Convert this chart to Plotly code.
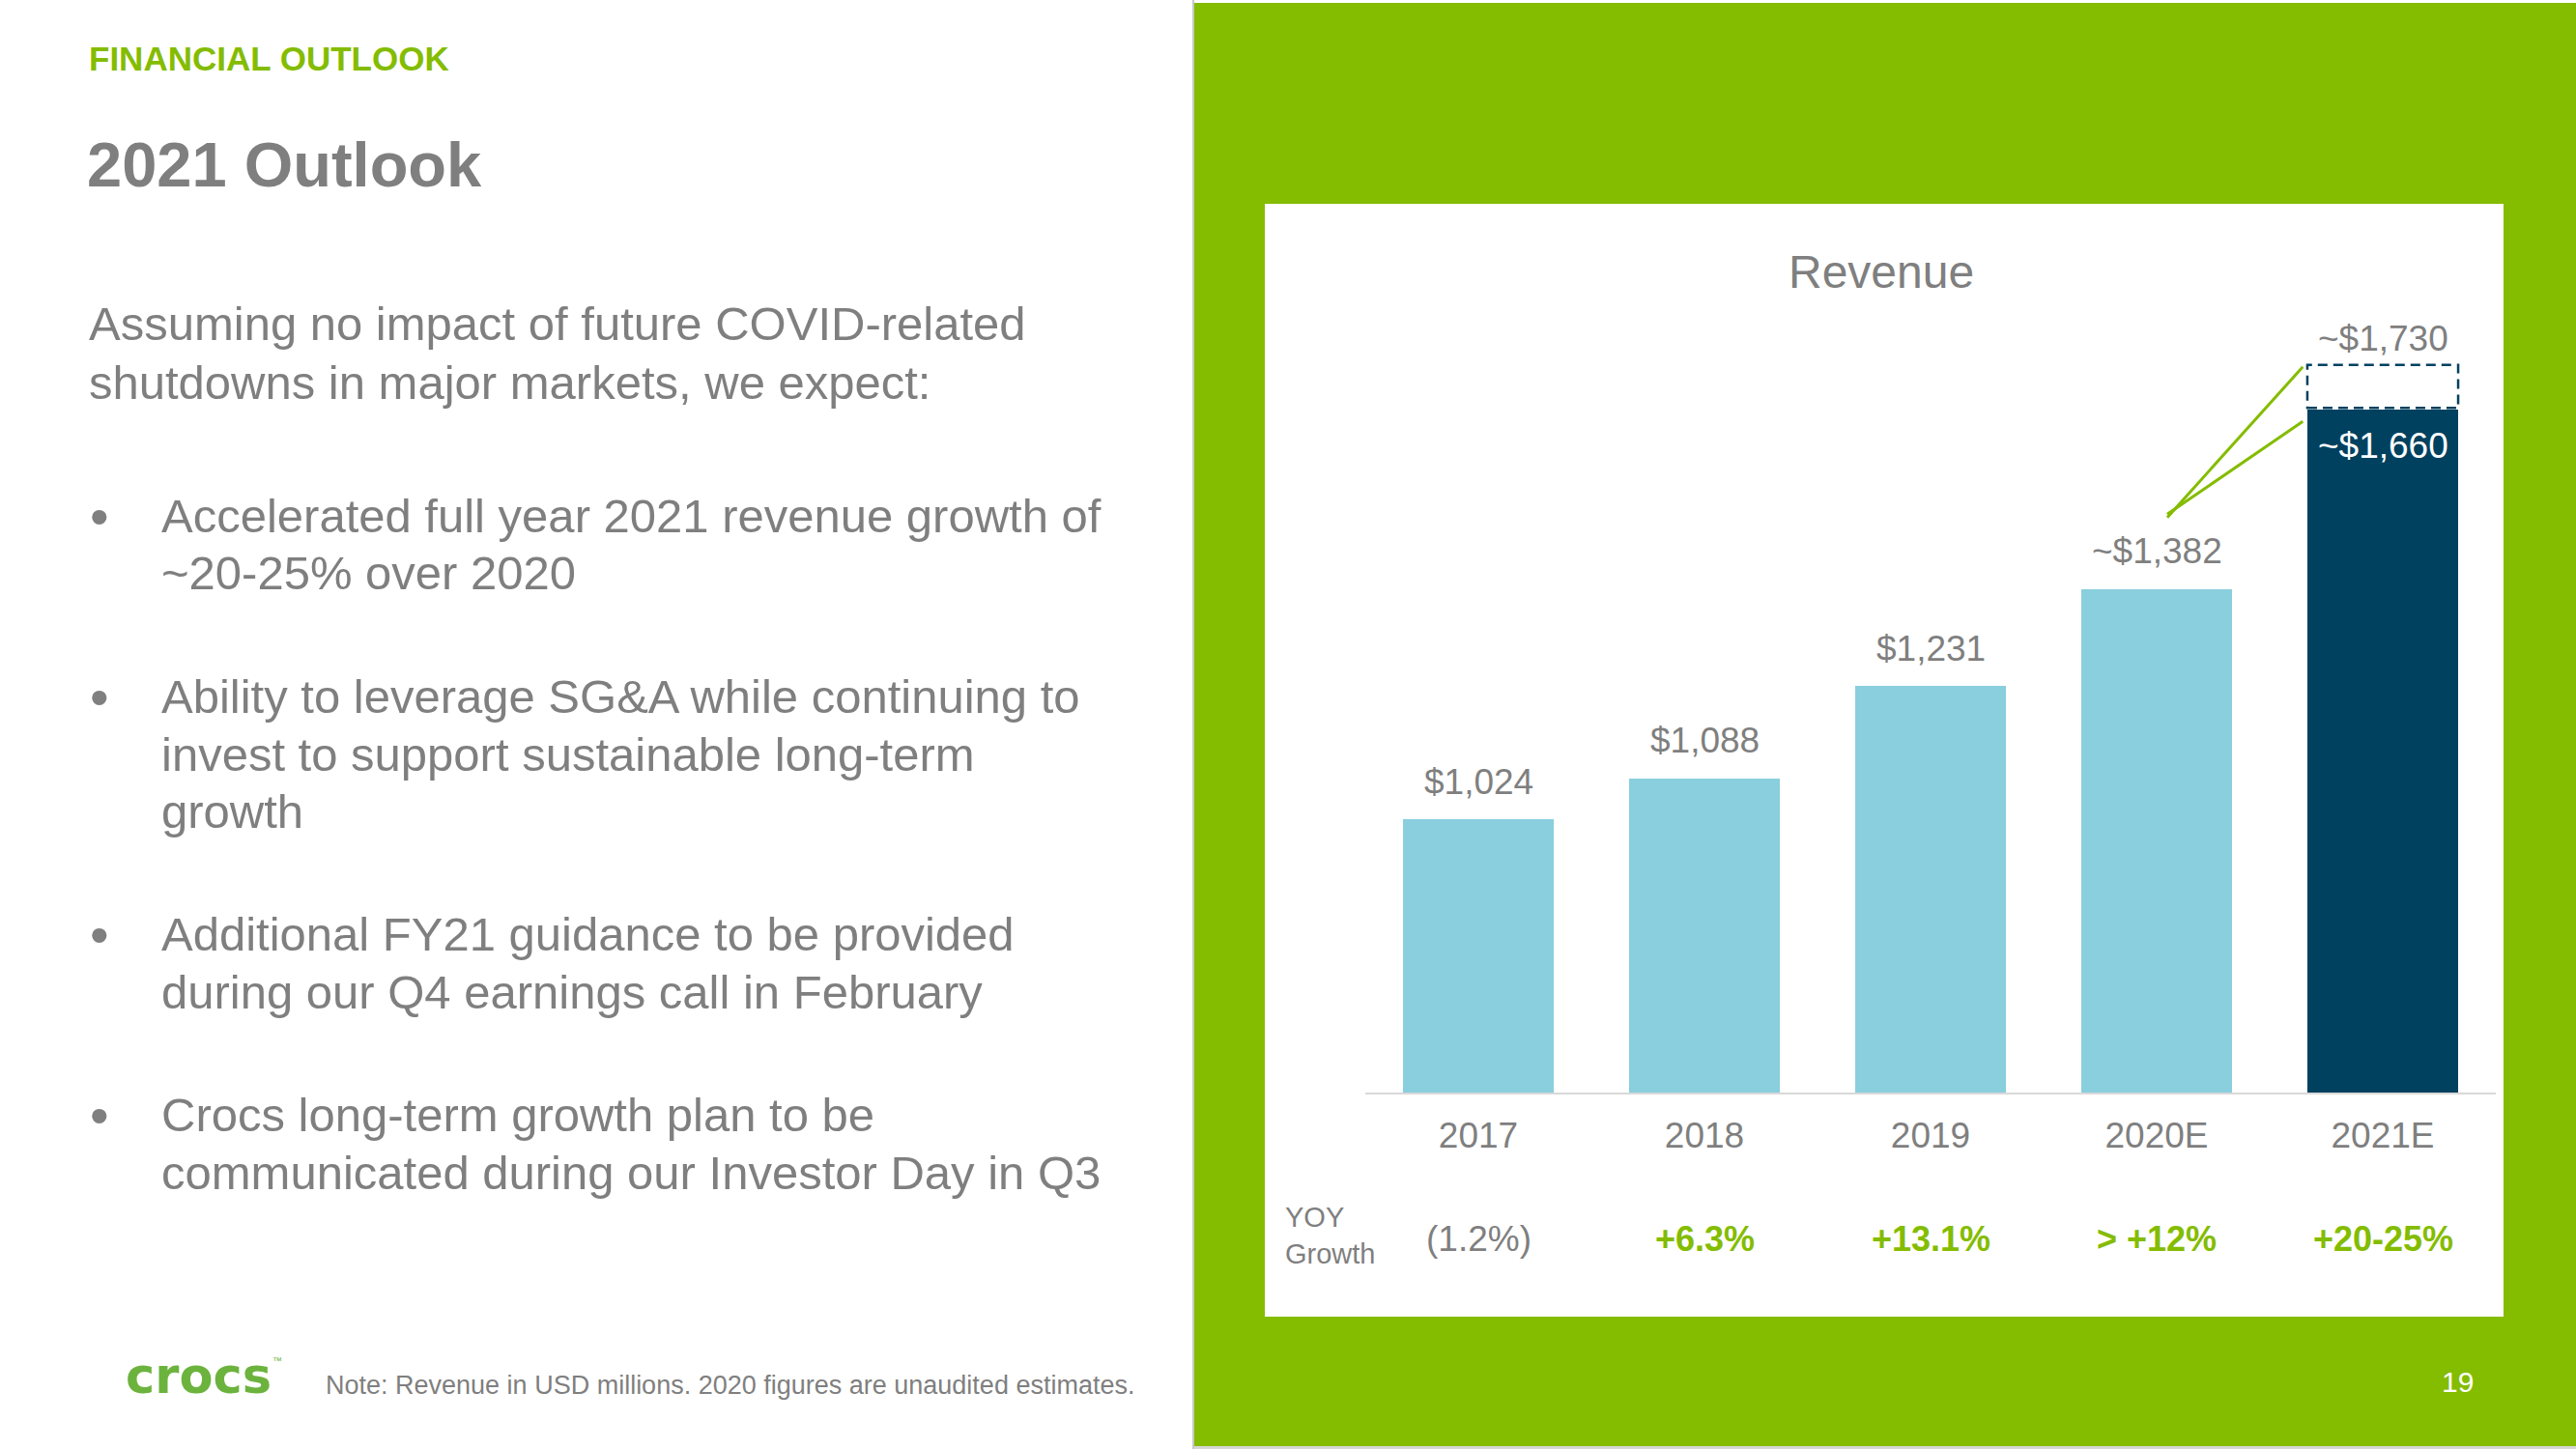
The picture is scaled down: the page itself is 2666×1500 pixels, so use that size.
import plotly.graph_objects as go

# ---------------- data ----------------
years = ["2017", "2018", "2019", "2020E", "2021E"]
revenue = [1024, 1088, 1231, 1382, 1660]
revenue_2021_high = 1730
approx_flags = [False, False, False, True, True]
yoy_growth = ["(1.2%)", "+6.3%", "+13.1%", "> +12%", "+20-25%"]
yoy_highlight = [False, True, True, True, True]

intro_lines = ["Assuming no impact of future COVID-related",
               "shutdowns in major markets, we expect:"]
bullets = [
    ["Accelerated full year 2021 revenue growth of", "~20-25% over 2020"],
    ["Ability to leverage SG&A while continuing to", "invest to support sustainable long-term", "growth"],
    ["Additional FY21 guidance to be provided", "during our Q4 earnings call in February"],
    ["Crocs long-term growth plan to be", "communicated during our Investor Day in Q3"],
]

# ---------------- style ----------------
W, H = 2666, 1500
FONT = "Liberation Sans, Arial, sans-serif"
GRAY = "#7f7f7f"
GREEN = "#84bc00"
LOGO_GREEN = "#6cb33e"
LIGHT_BLUE = "#89cfde"
NAVY = "#00415f"


def px(x):
    return x / W


def py(y):
    return 1 - y / H


def fmt(v, approx):
    return ("~" if approx else "") + "$" + f"{v:,}"


bar_colors = [LIGHT_BLUE] * (len(years) - 1) + [NAVY]
xs = list(range(len(years)))
BAR_W = 0.667

fig = go.Figure()
fig.add_trace(go.Bar(x=xs, y=revenue, width=BAR_W, marker=dict(color=bar_colors, line=dict(width=0)),
                     hoverinfo="skip", showlegend=False))

shapes = []
# green panel and white card
shapes.append(dict(type="rect", xref="paper", yref="paper", x0=px(1236), x1=1, y0=py(1497), y1=py(3),
                   fillcolor=GREEN, line=dict(width=0), layer="below"))
shapes.append(dict(type="line", xref="paper", yref="paper", x0=px(1235), x1=px(1235), y0=py(1500), y1=1,
                   line=dict(color="#c8c8c8", width=2), layer="below"))
shapes.append(dict(type="rect", xref="paper", yref="paper", x0=px(1236), x1=1, y0=0, y1=py(1497),
                   fillcolor="#d6d6d6", line=dict(width=0), layer="below"))
shapes.append(dict(type="rect", xref="paper", yref="paper", x0=px(1309), x1=px(2591), y0=py(1363), y1=py(211),
                   fillcolor="white", line=dict(width=0), layer="below"))

# dashed range box on 2021E bar
last = len(years) - 1
shapes.append(dict(type="rect", xref="x", yref="y", x0=last - BAR_W / 2, x1=last + BAR_W / 2,
                   y0=revenue[last] + 3, y1=revenue_2021_high,
                   line=dict(color=NAVY, width=2.5, dash="10px,6px"), fillcolor="rgba(0,0,0,0)"))

# connector lines from 2020E label to 2021E range
start_x = last - 1 + 0.047
start_y = revenue[last - 1] + 113
end_x = last - BAR_W / 2 - 0.02
shapes.append(dict(type="line", xref="x", yref="y", x0=start_x, y0=start_y - 2, x1=end_x, y1=revenue_2021_high - 3,
                   line=dict(color=GREEN, width=3)))
shapes.append(dict(type="line", xref="x", yref="y", x0=start_x, y0=start_y + 3, x1=end_x, y1=revenue[last] - 18,
                   line=dict(color=GREEN, width=3)))

ann = []


def text(x, y, s, size, color=GRAY, bold=False, xanchor="left", yanchor="middle", family=FONT, **kw):
    ann.append(dict(x=x, y=y, xref=kw.pop("xref", "paper"), yref=kw.pop("yref", "paper"), text=s,
                    showarrow=False, xanchor=xanchor, yanchor=yanchor,
                    font=dict(size=size, color=color, family=family, weight="bold" if bold else "normal"),
                    **kw))


# left side
text(px(90), py(60), "FINANCIAL OUTLOOK", 35, color=GREEN, bold=True)
text(px(88), py(171), "2021 Outlook", 65, bold=True)
for i, line in enumerate(intro_lines):
    text(px(90), py(335 + 61 * i), line, 49)

bullet_tops = [534, 721, 967, 1154]
for top, lines in zip(bullet_tops, bullets):
    text(px(103), py(top), "•", 56, xanchor="center")
    for j, line in enumerate(lines):
        text(px(165), py(top + 59.5 * j), line, 49)

text(px(129), py(1424), "crocs", 51, color=LOGO_GREEN, bold=True, family="DejaVu Sans, sans-serif",
     borderpad=0)
text(px(281), py(1408), "™", 10, color=LOGO_GREEN, borderpad=0)
text(px(335), py(1434), "Note: Revenue in USD millions. 2020 figures are unaudited estimates.", 27)

# chart texts
text(px(1947), py(282), "Revenue", 48, xanchor="center")
for i, v in enumerate(revenue):
    lbl = fmt(v, approx_flags[i])
    if i == last:
        text(i, v, lbl, 37, color="white", xanchor="center", xref="x", yref="y", yshift=-37)
    else:
        text(i, v, lbl, 37, xanchor="center", xref="x", yref="y", yshift=39)
text(last, revenue_2021_high, fmt(revenue_2021_high, True), 37, xanchor="center", xref="x", yref="y", yshift=27)

text(px(1328), py(1260), "YOY", 29)
text(px(1328), py(1298), "Growth", 29)
for i, g in enumerate(yoy_growth):
    hl = yoy_highlight[i]
    text(i, py(1282), g, 36 if hl else 37, color=GREEN if hl else GRAY, bold=hl, xanchor="center", xref="x")

text(px(2543), py(1430), "19", 30, color="white", xanchor="center")

fig.update_layout(
    width=W, height=H,
    margin=dict(l=0, r=0, t=0, b=0),
    paper_bgcolor="white", plot_bgcolor="rgba(0,0,0,0)",
    shapes=shapes, annotations=ann,
    bargap=0,
    xaxis=dict(domain=[px(1413), px(2583)], range=[-0.5, 4.5], tickvals=xs, ticktext=years,
               showline=True, linecolor="#d9d9d9", linewidth=2, showgrid=False, zeroline=False,
               ticks="", tickfont=dict(size=37, color=GRAY, family=FONT), ticklabelstandoff=11,
               fixedrange=True),
    yaxis=dict(domain=[py(1131), py(211)], range=[600, 1980], visible=False, fixedrange=True),
    font=dict(family=FONT),
)

fig.write_html("out.html", config={"displayModeBar": False},
               post_script="document.body.style.margin='0';document.body.style.padding='0';")
